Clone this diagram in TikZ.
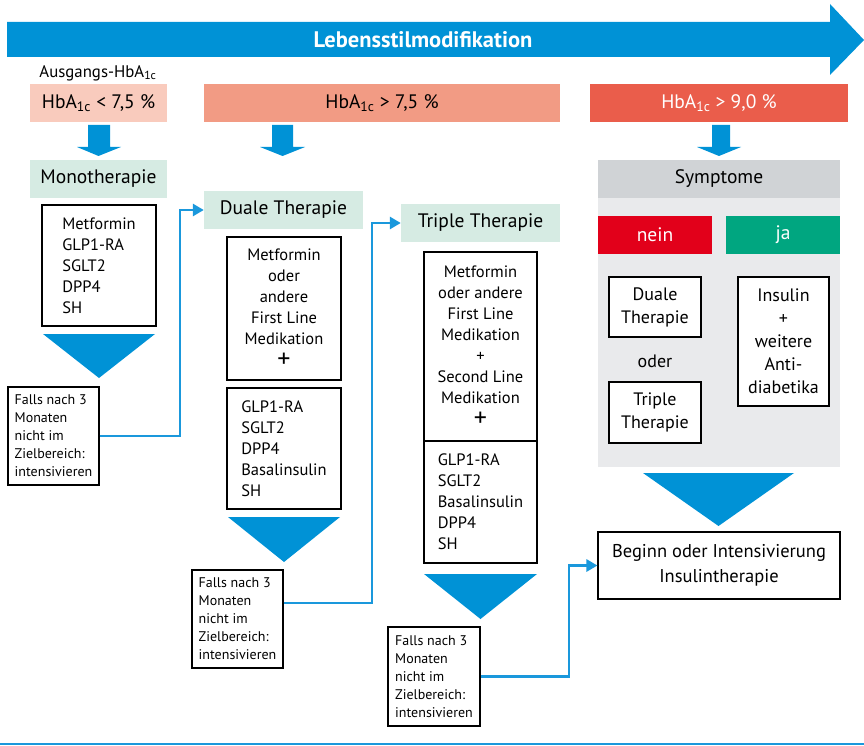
\documentclass[tikz,border=0pt]{standalone}
\usepackage{fontspec}
\setmainfont{PT Sans}
\usetikzlibrary{arrows.meta}
\definecolor{topblue}{HTML}{0092D6}
\definecolor{connblue}{HTML}{1A98DC}
\definecolor{pinkA}{HTML}{F9CBBD}
\definecolor{salmonB}{HTML}{F29B84}
\definecolor{redC}{HTML}{EA5D4B}
\definecolor{mint}{HTML}{D6EBE3}
\definecolor{grayhdr}{HTML}{D0D3D6}
\definecolor{graypanel}{HTML}{E9EAEC}
\definecolor{neinred}{HTML}{E2001A}
\definecolor{jagreen}{HTML}{00A680}
\newcommand\myfs[2]{\fontsize{#1}{#2}\selectfont}
\begin{document}
\begin{tikzpicture}[x=1pt,y=-1pt,
  band/.style={inner sep=0pt, minimum height=38pt, font=\myfs{19.5}{23}},
  box/.style={draw=black, line width=1.1pt, inner sep=0pt, fill=white},
  medtext/.style={font=\myfs{16.5}{21}},
  fallsbox/.style={box, minimum width=91pt, minimum height=98pt, align=left, font=\myfs{14}{18}},
  conn/.style={draw=connblue, line width=2.8pt, -{Triangle[length=11pt,width=12pt]}},
  blockarrow/.style={fill=topblue, draw=none}]
\useasboundingbox (0,0) rectangle (864,746);

% top arrow
\fill[topblue] (7,22) -- (830,22) -- (830,4) -- (864,40) -- (830,75) -- (830,57) -- (7,57) -- cycle;
\node[text=white, font=\bfseries\myfs{22.5}{25}] (lsm) at (423,40) {Lebensstilmodifikation};

% HbA1c header
\node[font=\myfs{16.8}{19}] (ausg) at (98,73) {Ausgangs-HbA\textsubscript{1c}};
\node[band, fill=pinkA, minimum width=137pt] (hb1) at (98.5,103) {HbA\textsubscript{1c} < 7,5 \%};
\node[band, fill=salmonB, minimum width=356pt] (hb2) at (382,103) {HbA\textsubscript{1c} > 7,5 \%};
\node[band, fill=redC, minimum width=258pt, text=white] (hb3) at (719,103) {HbA\textsubscript{1c} > 9,0 \%};

% small block arrows
\fill[blockarrow] (88,125) -- (110,125) -- (110,147) -- (121,147) -- (98.5,156) -- (77,147) -- (88,147) -- cycle;
\fill[blockarrow] (272,125) -- (293,125) -- (293,147) -- (305,147) -- (282.5,156) -- (260,147) -- (272,147) -- cycle;
\fill[blockarrow] (712,125) -- (730,125) -- (730,147) -- (741,147) -- (719,156) -- (697,147) -- (712,147) -- cycle;

% therapy headers
\node[band, fill=mint, minimum width=137pt] (mono) at (98.5,179) {Monotherapie};
\node[band, fill=mint, minimum width=159pt] (duale) at (283.5,210) {Duale Therapie};
\node[band, fill=mint, minimum width=159pt] (triple) at (480.5,223) {Triple Therapie};

% right column
\fill[graypanel] (598,198) rectangle (840,467);
\node[band, fill=grayhdr, minimum width=242pt] (sympt) at (719,179) {Symptome};
\node[band, fill=neinred, minimum width=114pt, text=white] (nein) at (655,235) {nein};
\node[band, fill=jagreen, minimum width=114pt, text=white] (ja) at (783,235) {ja};
\node[box, minimum width=92pt, minimum height=60pt, align=center, font=\myfs{18}{23}] (dual2) at (655,307) {Duale\\Therapie};
\node[font=\myfs{18}{23}] (oder) at (655,361) {oder};
\node[box, minimum width=92pt, minimum height=61pt, align=center, font=\myfs{18}{23}] (trip2) at (655,412.5) {Triple\\Therapie};
\node[box, minimum width=91pt, minimum height=129pt, align=center, font=\myfs{18}{23}] (insulin) at (783.5,341.5) {Insulin\\+\\weitere\\Anti-\\diabetika};
\fill[blockarrow] (643,473) -- (794,473) -- (718.5,526) -- cycle;
\node[box, minimum width=242pt, minimum height=67pt, align=center, font=\myfs{18.5}{25}] (beginn) at (719,565.5) {Beginn oder Intensivierung\\Insulintherapie};

% left column
\node[box, medtext, minimum width=114pt, minimum height=121pt, align=left] (med1) at (99,265.5) {Metformin\\GLP1-RA\\SGLT2\\DPP4\\SH};
\fill[blockarrow] (43,334) -- (155,334) -- (99,378) -- cycle;
\node[fallsbox] (falls1) at (53.5,436) {Falls nach 3\\Monaten\\nicht im\\Zielbereich:\\intensivieren};

% middle column
\node[box, medtext, minimum width=114pt, minimum height=143pt, align=center] (dtop) at (284,308.5) {Metformin\\oder\\andere\\First Line\\Medikation\\[2pt]{\myfs{26}{26}+}};
\node[box, medtext, minimum width=114pt, minimum height=121pt, align=left] (dbot) at (284,448.5) {GLP1-RA\\SGLT2\\DPP4\\Basalinsulin\\SH};
\fill[blockarrow] (228,517) -- (340,517) -- (284,562) -- cycle;
\node[fallsbox] (falls2) at (237.5,619) {Falls nach 3\\Monaten\\nicht im\\Zielbereich:\\intensivieren};

% triple column
\node[box, medtext, minimum width=113pt, minimum height=189pt, align=center] (ttop) at (480.5,346.5) {Metformin\\oder andere\\First Line\\Medikation\\+\\Second Line\\Medikation\\[2pt]{\myfs{26}{26}+}};
\node[box, medtext, minimum width=113pt, minimum height=122pt, align=left] (tbot) at (480.5,502) {GLP1-RA\\SGLT2\\Basalinsulin\\DPP4\\SH};
\fill[blockarrow] (424,574) -- (537,574) -- (480.5,619) -- cycle;
\node[fallsbox, minimum width=92pt, minimum height=99pt] (falls3) at (434,676.5) {Falls nach 3\\Monaten\\nicht im\\Zielbereich:\\intensivieren};

% connectors
\coordinate (v1) at (180,0);
\coordinate (v2) at (372,0);
\coordinate (v3) at (569,0);
\draw[conn] (falls1.east) -- (falls1.east -| v1) |- (duale.west);
\draw[conn] ([yshift=16pt]falls2.east) -- ([yshift=16pt]falls2.east -| v2) |- (triple.west);
\draw[conn] (falls3.east) -- (falls3.east -| v3) |- (beginn.west);

% bottom rule
\draw[connblue, line width=2pt] (0,744) -- (864,744);
\end{tikzpicture}
\end{document}
